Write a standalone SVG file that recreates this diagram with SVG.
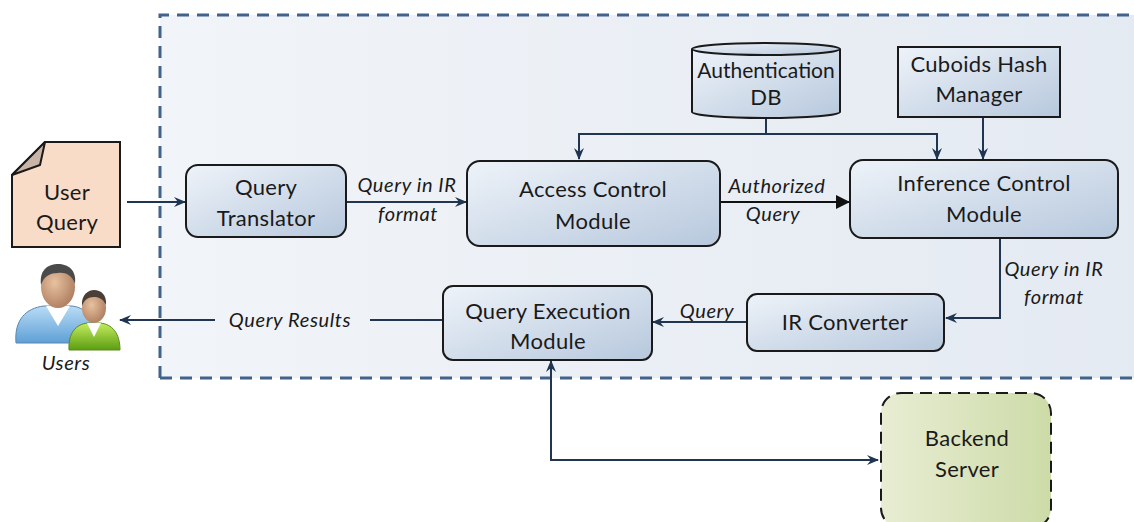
<svg xmlns="http://www.w3.org/2000/svg" width="1134" height="522" viewBox="0 0 1134 522">
  <defs>
    <linearGradient id="boxFill" x1="0" y1="0" x2="1" y2="1">
      <stop offset="0" stop-color="#eef3f9"/>
      <stop offset="1" stop-color="#b7c8dd"/>
    </linearGradient>
    <linearGradient id="panelFill" x1="0" y1="0" x2="1" y2="0">
      <stop offset="0" stop-color="#f1f4f8"/>
      <stop offset="1" stop-color="#e4eaf2"/>
    </linearGradient>
    <linearGradient id="serverFill" x1="0" y1="0" x2="1" y2="0">
      <stop offset="0" stop-color="#e8edd3"/>
      <stop offset="1" stop-color="#cddba8"/>
    </linearGradient>
    <radialGradient id="skin" cx="0.4" cy="0.4" r="0.7">
      <stop offset="0" stop-color="#e8c2a0"/>
      <stop offset="1" stop-color="#a9785a"/>
    </radialGradient>
    <linearGradient id="blueShirt" x1="0" y1="0" x2="0" y2="1">
      <stop offset="0" stop-color="#b9dcf5"/>
      <stop offset="1" stop-color="#5f9fd6"/>
    </linearGradient>
    <linearGradient id="greenShirt" x1="0" y1="0" x2="0" y2="1">
      <stop offset="0" stop-color="#c5ec5e"/>
      <stop offset="1" stop-color="#5c9d12"/>
    </linearGradient>
    <marker id="arrow" viewBox="0 0 12 12" refX="11" refY="6" markerWidth="12" markerHeight="12" markerUnits="userSpaceOnUse" orient="auto-start-reverse">
      <path d="M0,1 L12,6 L0,11 L4,6 Z" fill="#1f3550"/>
    </marker>
    <marker id="tri" viewBox="0 0 14 14" refX="13" refY="7" markerWidth="14" markerHeight="14" markerUnits="userSpaceOnUse" orient="auto">
      <path d="M0,0 L14,7 L0,14 Z" fill="#111"/>
    </marker>
  </defs>
  <style>
    .node { fill: url(#boxFill); stroke: #1a1a1a; stroke-width: 2; }
    .label { font-family: Lato, "Open Sans", sans-serif; font-size: 22px; letter-spacing: 0.3px; fill: #1a1a1a; text-anchor: middle; }
    .edge-label { font-family: Lato, "Open Sans", sans-serif; font-size: 20px; letter-spacing: 0.6px; font-style: italic; fill: #1a1a1a; text-anchor: middle; }
    .edge { fill: none; stroke: #1f3550; stroke-width: 2; }
  </style>

  <rect width="1134" height="522" fill="#ffffff"/>

  <!-- system boundary -->
  <g id="boundary">
    <rect x="160" y="15" width="990" height="363" fill="url(#panelFill)"/>
    <path d="M160,378 L160,15 L1134,15" fill="none" stroke="#41628a" stroke-width="3" stroke-dasharray="12 8"/>
    <path d="M160,378 L1134,378" fill="none" stroke="#41628a" stroke-width="3" stroke-dasharray="12 8"/>
  </g>

  <!-- connectors -->
  <g id="connectors">
    <line class="edge" x1="127" y1="202" x2="185" y2="202" marker-end="url(#arrow)"/>
    <line class="edge" x1="346" y1="202" x2="466" y2="202" marker-end="url(#arrow)"/>
    <line x1="720" y1="202" x2="849" y2="202" stroke="#111" stroke-width="2" marker-end="url(#tri)"/>
    <path class="edge" d="M766,118 L766,134"/>
    <path class="edge" d="M766,134 L579,134 L579,159" marker-end="url(#arrow)"/>
    <path class="edge" d="M766,134 L937,134 L937,159" marker-end="url(#arrow)"/>
    <line class="edge" x1="983" y1="117" x2="983" y2="159" marker-end="url(#arrow)"/>
    <path class="edge" d="M1000,238 L1000,318 L946,318" marker-end="url(#arrow)"/>
    <line class="edge" x1="747" y1="322" x2="653" y2="322" marker-end="url(#arrow)"/>
    <line class="edge" x1="443" y1="320" x2="370" y2="320"/>
    <line class="edge" x1="215" y1="320" x2="120" y2="320" marker-end="url(#arrow)"/>
    <path class="edge" d="M878,460 L551,460 L551,361" marker-start="url(#arrow)" marker-end="url(#arrow)"/>
    <text class="edge-label" x="407" y="192">Query in IR</text>
    <text class="edge-label" x="408" y="221">format</text>
    <text class="edge-label" x="777" y="193">Authorized</text>
    <text class="edge-label" x="773" y="221">Query</text>
    <text class="edge-label" x="1054" y="276">Query in IR</text>
    <text class="edge-label" x="1054" y="304">format</text>
    <text class="edge-label" x="707" y="318">Query</text>
    <text class="edge-label" x="290" y="327">Query Results</text>
  </g>

  <!-- user query document -->
  <g id="user-query">
    <path d="M45,142 L120,142 L120,247 L12,247 L12,175 Z" fill="#f9dcc8" stroke="#1a1a1a" stroke-width="2"/>
    <path d="M12,175 L45,142 L40,165 Z" fill="#c9b5a8" stroke="#1a1a1a" stroke-width="2" stroke-linejoin="round"/>
    <text class="label" x="67" y="200">User</text>
    <text class="label" x="67" y="230">Query</text>
  </g>

  <g id="query-translator">
    <rect class="node" x="186" y="165" width="160" height="72" rx="12"/>
    <text class="label" x="266" y="195">Query</text>
    <text class="label" x="266" y="226">Translator</text>
  </g>

  <g id="access-control">
    <rect class="node" x="467" y="161" width="253" height="85" rx="13"/>
    <text class="label" x="593" y="197">Access Control</text>
    <text class="label" x="593" y="229">Module</text>
  </g>

  <g id="auth-db">
    <path class="node" d="M692,49 L692,112 A74,6 0 0 0 840,112 L840,49"/>
    <ellipse class="node" cx="766" cy="49" rx="74" ry="6"/>
    <text class="label" x="766" y="78" style="font-size:21px;letter-spacing:0">Authentication</text>
    <text class="label" x="766" y="105">DB</text>
  </g>

  <g id="cuboids">
    <rect class="node" x="898" y="47" width="162" height="70"/>
    <text class="label" x="979" y="72">Cuboids Hash</text>
    <text class="label" x="979" y="102">Manager</text>
  </g>

  <g id="inference-control">
    <rect class="node" x="850" y="160" width="268" height="78" rx="13"/>
    <text class="label" x="984" y="191">Inference Control</text>
    <text class="label" x="984" y="222">Module</text>
  </g>

  <g id="ir-converter">
    <rect class="node" x="747" y="294" width="197" height="57" rx="10"/>
    <text class="label" x="845" y="330">IR Converter</text>
  </g>

  <g id="query-execution">
    <rect class="node" x="443" y="286" width="209" height="74" rx="10"/>
    <text class="label" x="548" y="319">Query Execution</text>
    <text class="label" x="548" y="349">Module</text>
  </g>

  <g id="backend-server">
    <rect x="881" y="393" width="170" height="135" rx="20" fill="url(#serverFill)" stroke="#1a1a1a" stroke-width="2" stroke-dasharray="12 7"/>
    <text class="label" x="967" y="446">Backend</text>
    <text class="label" x="967" y="477">Server</text>
  </g>

  <!-- users icon -->
  <g id="users">
    <path d="M16,343 C14,320 26,308 44,306 L72,306 C88,308 96,320 95,343 Z" fill="url(#blueShirt)" stroke="#5a86b0" stroke-width="1"/>
    <path d="M46,306 L58,326 L70,306 Z" fill="#ffffff"/>
    <ellipse cx="58" cy="287" rx="17" ry="21" fill="url(#skin)"/>
    <path d="M41,285 C39,268 50,264 58,264 C68,264 77,270 75,284 C72,274 64,272 58,273 C50,273 44,276 41,285 Z" fill="#4a4a4a"/>
    <path d="M69,350 C68,333 76,324 88,323 L100,323 C112,324 120,333 120,350 Z" fill="url(#greenShirt)" stroke="#5c8a1a" stroke-width="1"/>
    <path d="M87,323 L94,337 L101,323 Z" fill="#ffffff"/>
    <ellipse cx="94" cy="308" rx="12" ry="15" fill="url(#skin)"/>
    <path d="M82,306 C81,294 89,290 94,290 C101,290 107,295 106,305 C103,298 98,297 94,297 C88,297 84,300 82,306 Z" fill="#4a3e36"/>
    <text class="edge-label" x="66" y="370">Users</text>
  </g>
</svg>
